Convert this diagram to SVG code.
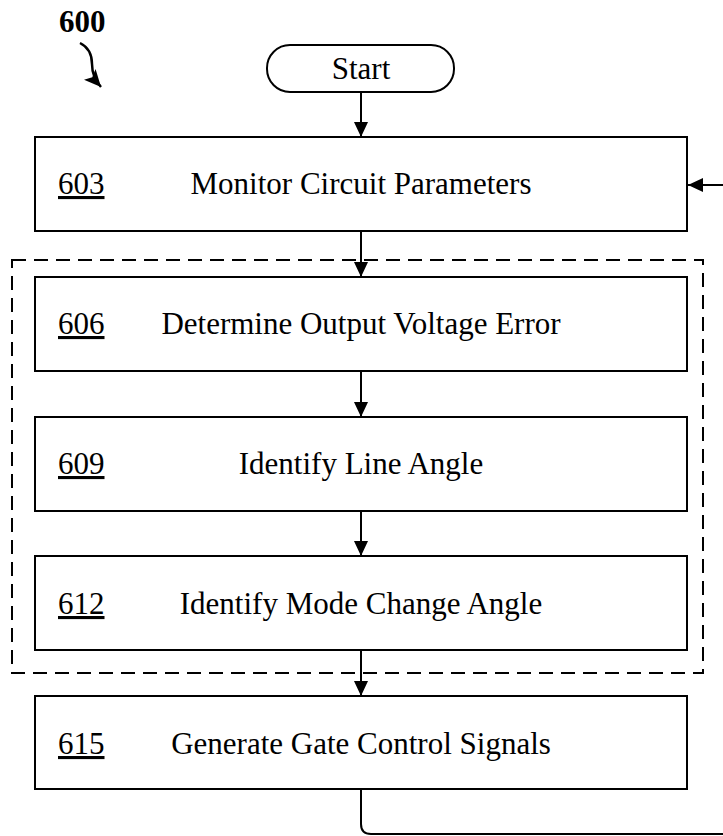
<svg xmlns="http://www.w3.org/2000/svg" width="723" height="836" viewBox="0 0 723 836">
<style>
  .box{fill:#fff;stroke:#000;stroke-width:2}
  .t{font-family:"Liberation Serif","Times New Roman",serif;font-size:31px;fill:#000}
  .c{text-anchor:middle}
  .n{text-decoration:underline}
  .ln{fill:none;stroke:#000;stroke-width:2}
</style>
<defs>
  <marker id="ah" viewBox="0 0 15 14" refX="15" refY="7" markerWidth="15" markerHeight="14" markerUnits="userSpaceOnUse" orient="auto">
    <path d="M0,0 L15,7 L0,14 Z" fill="#000"/>
  </marker>
  <marker id="ah2" viewBox="0 0 17 16" refX="17" refY="8" markerWidth="17" markerHeight="16" markerUnits="userSpaceOnUse" orient="auto">
    <path d="M0,0 L17,8 L0,16 L4,8 Z" fill="#000"/>
  </marker>
</defs>
<rect x="12" y="260" width="691" height="413" fill="none" stroke="#000" stroke-width="2" stroke-dasharray="14 8"/>
<g id="label600">
  <text x="59" y="32" class="t" font-size="30" font-weight="bold">600</text>
  <path d="M80,43 Q92,49 92,64 Q92,77 101,87" fill="none" stroke="#000" stroke-width="2.5" marker-end="url(#ah2)"/>
</g>
<g id="start">
  <rect x="267" y="45" width="187" height="47" rx="23" class="box"/>
  <text x="361" y="79" class="t c">Start</text>
</g>
<g id="n603">
  <rect x="35" y="137" width="652" height="94" class="box"/>
  <text x="58" y="194" class="t n">603</text>
  <text x="361" y="194" class="t c">Monitor Circuit Parameters</text>
</g>
<g id="n606">
  <rect x="35" y="277" width="652" height="94" class="box"/>
  <text x="58" y="334" class="t n">606</text>
  <text x="361" y="334" class="t c">Determine Output Voltage Error</text>
</g>
<g id="n609">
  <rect x="35" y="417" width="652" height="94" class="box"/>
  <text x="58" y="474" class="t n">609</text>
  <text x="361" y="474" class="t c">Identify Line Angle</text>
</g>
<g id="n612">
  <rect x="35" y="556" width="652" height="94" class="box"/>
  <text x="58" y="614" class="t n">612</text>
  <text x="361" y="614" class="t c">Identify Mode Change Angle</text>
</g>
<g id="n615">
  <rect x="35" y="696" width="652" height="93" class="box"/>
  <text x="58" y="754" class="t n">615</text>
  <text x="361" y="754" class="t c">Generate Gate Control Signals</text>
</g>
<g id="connectors">
  <line x1="361" y1="92" x2="361" y2="137" class="ln" marker-end="url(#ah)"/>
  <line x1="361" y1="231" x2="361" y2="277" class="ln" marker-end="url(#ah)"/>
  <line x1="361" y1="371" x2="361" y2="417" class="ln" marker-end="url(#ah)"/>
  <line x1="361" y1="511" x2="361" y2="556" class="ln" marker-end="url(#ah)"/>
  <line x1="361" y1="650" x2="361" y2="696" class="ln" marker-end="url(#ah)"/>
  <path d="M361,789 L361,824 Q361,834 371,834 L723,834" class="ln"/>
  <line x1="723" y1="185" x2="688" y2="185" class="ln" marker-end="url(#ah)"/>
</g>
</svg>
